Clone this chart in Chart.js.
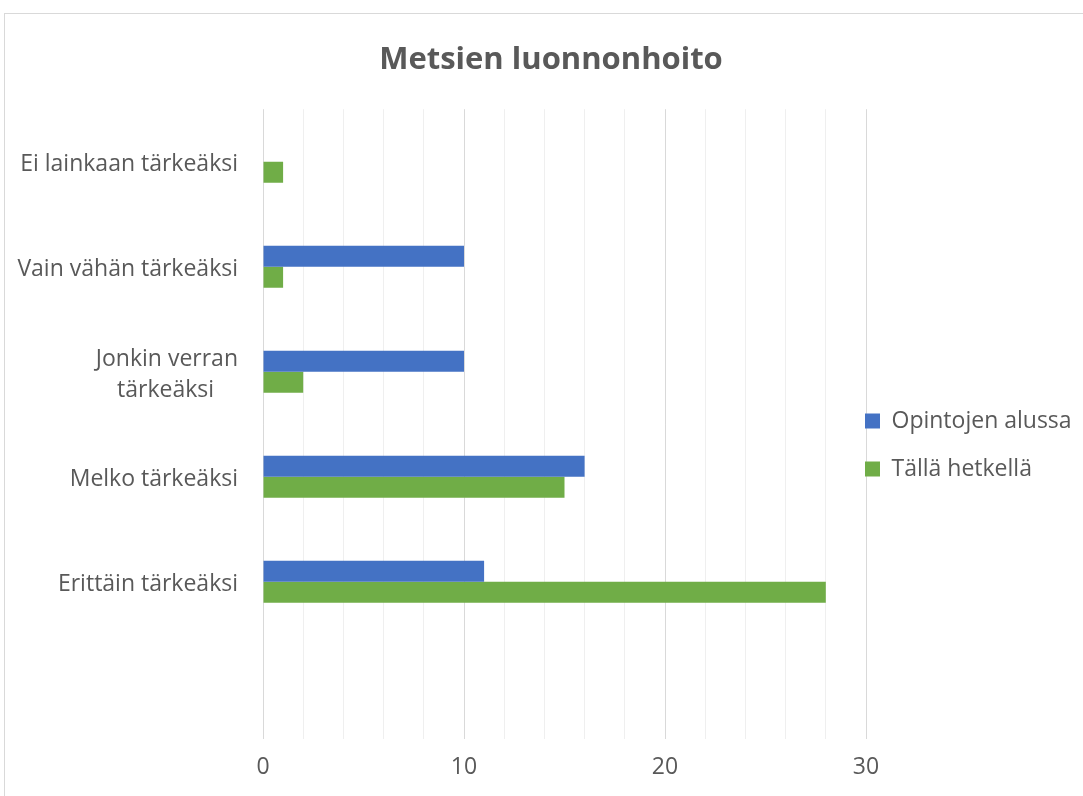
<!DOCTYPE html>
<html>
<head>
<meta charset="utf-8">
<script src="https://cdn.jsdelivr.net/npm/chart.js@4/dist/chart.umd.min.js"></script>
<style>
  body { margin: 0; background: #fff; }
  #wrap { position: relative; width: 1083px; height: 796px; overflow: hidden; }
  #frame { position: absolute; left: 4px; top: 13px; width: 1200px; height: 900px; border: 1px solid #d9d9d9; }
  #myChart { position: absolute; left: 0; top: 0; }
</style>
</head>
<body>
<div id="wrap">
  <div id="frame"></div>
  <canvas id="myChart" width="1083" height="796"></canvas>
</div>
<script>
// data
const categories = [
  'Ei lainkaan tärkeäksi',
  'Vain vähän tärkeäksi',
  ['Jonkin verran', 'tärkeäksi\u00a0\u00a0\u00a0\u00a0'],
  'Melko tärkeäksi',
  'Erittäin tärkeäksi',
  ''
];
const opintojenAlussa = [0, 10, 10, 16, 11, null];
const tallaHetkella = [1, 1, 2, 15, 28, null];
const xTickLabels = [0, 10, 20, 30];

const textColor = '#595959';
const fontFamily = '"Open Sans", "Noto Sans", sans-serif';

// excel lets the legend sit over the right end of the plot, so move it by hand
const legendNudge = {
  id: 'legendNudge',
  afterLayout(chart) {
    chart.legend.left -= 26;
    chart.legend.top += 95;
    chart.titleBlock.left += 11;
  }
};

var ctx = document.getElementById('myChart').getContext('2d');

new Chart(ctx, {
  type: 'bar',
  data: {
    labels: categories,
    datasets: [
      { label: 'Opintojen alussa', data: opintojenAlussa, backgroundColor: '#4472C4' },
      { label: 'Tällä hetkellä', data: tallaHetkella, backgroundColor: '#70AD47' }
    ]
  },
  plugins: [legendNudge],
  options: {
    indexAxis: 'y',
    responsive: false,
    animation: false,
    categoryPercentage: 0.4,
    barPercentage: 1,
    layout: { padding: { left: 8, right: 0, top: 0, bottom: 1 } },
    plugins: {
      title: {
        display: true,
        text: 'Metsien luonnonhoito',
        color: textColor,
        font: { family: fontFamily, size: 31, weight: 'bold' },
        padding: { top: 42, bottom: 30 }
      },
      legend: {
        position: 'right',
        maxWidth: 217,
        labels: {
          color: textColor,
          font: { family: fontFamily, size: 23 },
          boxWidth: 15,
          boxHeight: 15,
          padding: 25
        }
      },
      tooltip: { enabled: false }
    },
    scales: {
      x: {
        min: 0,
        max: 30,
        ticks: {
          stepSize: 2,
          autoSkip: false,
          maxRotation: 0,
          padding: 14,
          color: textColor,
          font: { family: fontFamily, size: 23 },
          callback: (v) => xTickLabels.includes(v) ? String(v) : ''
        },
        grid: {
          drawTicks: false,
          color: (c) => (c.tick && c.tick.value % 10 === 0) ? '#d9d9d9' : '#efefef'
        },
        border: { display: false }
      },
      y: {
        afterFit: (scale) => { scale.width = 255; },
        ticks: {
          padding: 25,
          labelOffset: 3,
          color: textColor,
          font: { family: fontFamily, size: 23, lineHeight: 1.35 }
        },
        grid: { display: false, drawTicks: false },
        border: { display: false }
      }
    }
  }
});
</script>
</body>
</html>
